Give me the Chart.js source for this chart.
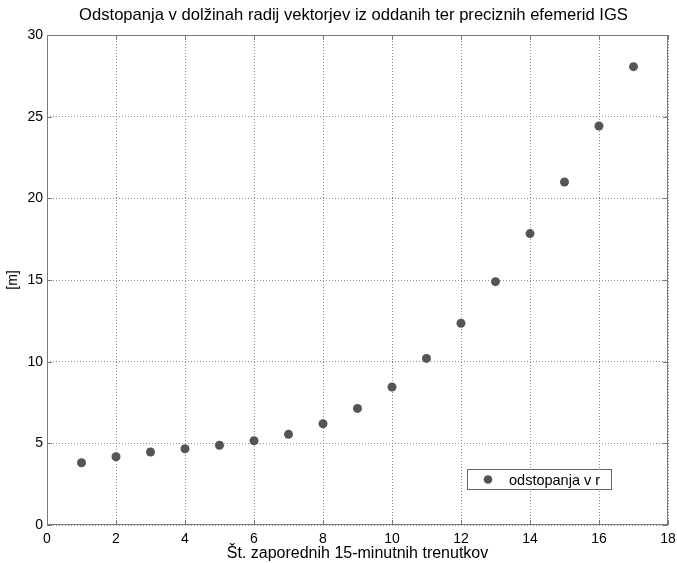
<!DOCTYPE html>
<html>
<head>
<meta charset="utf-8">
<script src="https://cdn.jsdelivr.net/npm/chart.js@4"></script>
<style>
  html, body { margin: 0; padding: 0; background: #fff; }
  #wrap { width: 677px; height: 563px; }
</style>
</head>
<body>
<div id="wrap"><canvas id="c" width="677" height="563"></canvas></div>
<script>
// ---------- data ----------
const epochs = [1, 2, 3, 4, 5, 6, 7, 8, 9, 10, 11, 12, 13, 14, 15, 16, 17];
const deviations = [3.81, 4.18, 4.47, 4.67, 4.88, 5.16, 5.55, 6.2, 7.14, 8.45, 10.2, 12.35, 14.9, 17.84, 21.0, 24.43, 28.06];
const xTicks = [0, 2, 4, 6, 8, 10, 12, 14, 16, 18];
const yTicks = [0, 5, 10, 15, 20, 25, 30];
const seriesLabel = "odstopanja v r";
const chartTitle = "Odstopanja v dolžinah radij vektorjev iz oddanih ter preciznih efemerid IGS";

const FONT = "'Liberation Sans', Arial, sans-serif";
const AXIS = "#7a7a7a";
const GRID = "#8f8f8f";
const DOT = "#555555";

// box round the plot, inward ticks, title and legend
const matlabBox = {
  id: "matlabBox",
  afterDraw(chart) {
    const { ctx, chartArea: a, scales } = chart;
    ctx.save();
    ctx.strokeStyle = AXIS;
    ctx.lineWidth = 1;
    ctx.strokeRect(a.left + 0.5, a.top + 0.5, a.right - a.left - 1, a.bottom - a.top - 1);
    ctx.beginPath();
    const tl = 5;
    xTicks.forEach((v) => {
      const x = Math.round(scales.x.getPixelForValue(v)) + 0.5;
      ctx.moveTo(x, a.bottom); ctx.lineTo(x, a.bottom - tl);
      ctx.moveTo(x, a.top); ctx.lineTo(x, a.top + tl);
    });
    yTicks.forEach((v) => {
      const y = Math.round(scales.y.getPixelForValue(v)) + 0.5;
      ctx.moveTo(a.left, y); ctx.lineTo(a.left + tl, y);
      ctx.moveTo(a.right, y); ctx.lineTo(a.right - tl, y);
    });
    ctx.stroke();

    // title, centred over the axes
    ctx.fillStyle = "#000";
    ctx.font = "16.6px " + FONT;
    ctx.textAlign = "center";
    ctx.textBaseline = "middle";
    ctx.fillText(chartTitle, (a.left + a.right) / 2 - 4, 15);

    // legend
    const lx = 467.5, ly = 469.5, lw = 144, lh = 20;
    ctx.fillStyle = "#fff";
    ctx.fillRect(lx, ly, lw, lh);
    ctx.strokeStyle = "#666";
    ctx.strokeRect(lx, ly, lw, lh);
    ctx.fillStyle = DOT;
    ctx.beginPath();
    ctx.arc(488, ly + lh / 2, 4.3, 0, Math.PI * 2);
    ctx.fill();
    ctx.fillStyle = "#000";
    ctx.font = "14.5px " + FONT;
    ctx.textAlign = "left";
    ctx.fillText(chart.data.datasets[0].label, 509, ly + lh / 2 + 1);
    ctx.restore();
  },
};

new Chart(document.getElementById("c"), {
  type: "scatter",
  data: {
    datasets: [
      {
        label: seriesLabel,
        data: epochs.map((x, i) => ({ x, y: deviations[i] })),
        backgroundColor: DOT,
        borderColor: DOT,
        borderWidth: 0,
        pointRadius: 4.5,
        pointHoverRadius: 4.5,
      },
    ],
  },
  options: {
    responsive: false,
    animation: false,
    layout: { padding: { left: 0, right: 9, top: 35, bottom: 0 } },
    plugins: {
      legend: { display: false },
      tooltip: { enabled: false },
      title: { display: false },
    },
    scales: {
      x: {
        type: "linear",
        min: 0,
        max: 18,
        afterBuildTicks: (s) => { s.ticks = xTicks.map((v) => ({ value: v })); },
        ticks: { color: "#000", font: { family: FONT, size: 14 }, padding: 6, maxRotation: 0 },
        grid: { color: GRID, drawTicks: false },
        border: { display: false, dash: [1, 2] },
        title: {
          display: true,
          text: "Št. zaporednih 15-minutnih trenutkov",
          color: "#000",
          font: { family: FONT, size: 16 },
          padding: { top: 0, bottom: 0 },
        },
        afterFit: (s) => { s.height = 38; s.paddingRight = 0; s.paddingLeft = 0; },
      },
      y: {
        type: "linear",
        min: 0,
        max: 30,
        afterBuildTicks: (s) => { s.ticks = yTicks.map((v) => ({ value: v })); },
        ticks: { color: "#000", font: { family: FONT, size: 14 }, padding: 4 },
        grid: { color: GRID, drawTicks: false },
        border: { display: false, dash: [1, 2] },
        title: {
          display: true,
          text: "[m]",
          color: "#000",
          font: { family: FONT, size: 14 },
          padding: { top: 5, bottom: 0 },
        },
        afterFit: (s) => { s.width = 47; s.paddingTop = 0; s.paddingBottom = 0; },
      },
    },
  },
  plugins: [matlabBox],
});
</script>
</body>
</html>
